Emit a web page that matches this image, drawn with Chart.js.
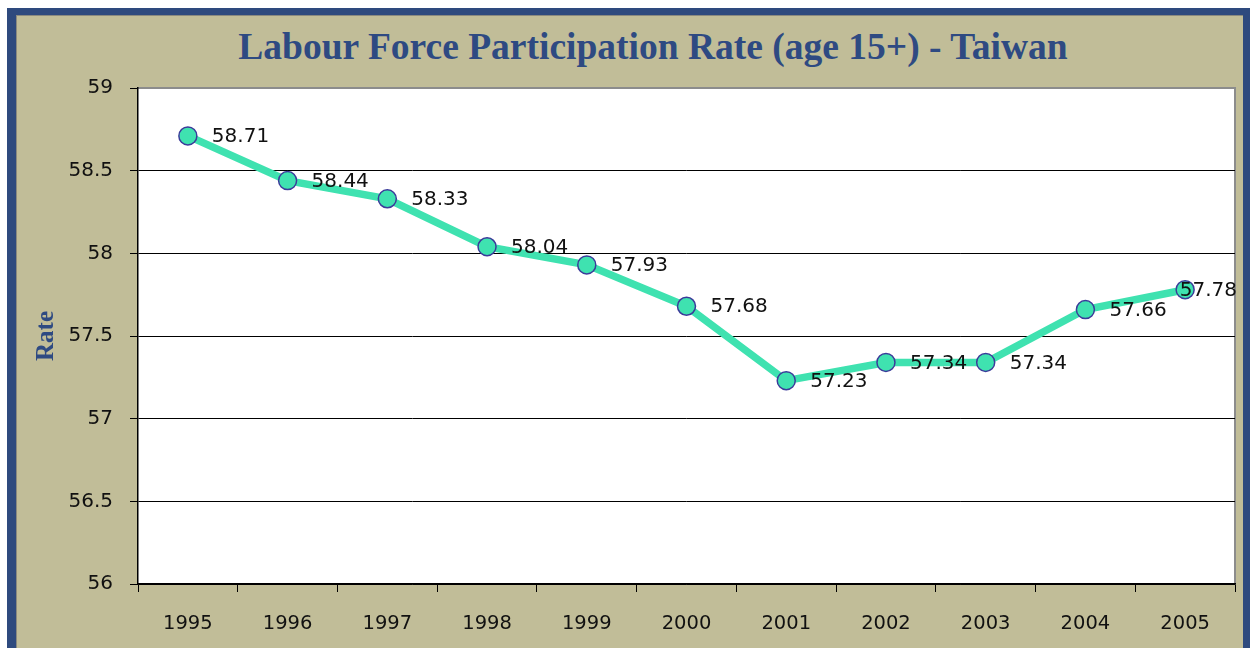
<!DOCTYPE html>
<html>
<head>
<meta charset="utf-8">
<script src="https://cdn.jsdelivr.net/npm/chart.js@4.4.1/dist/chart.umd.min.js"></script>
<style>
    body { margin: 0; background: #ffffff; }
    #frame { position: absolute; left: 7px; top: 8px; width: 1243px; height: 660px; background: #2e4a7e; }
    #panel { position: absolute; left: 9px; top: 7px; right: 7px; bottom: 0; background: #c1bd98; border-top: 1px solid #8a8a80; border-left: 1px solid #8a8a80; }
    #title { position: absolute; left: 0; top: 28px; width: 1306px; text-align: center;
             font: bold 37.5px "Liberation Serif", serif; line-height: 37px; color: #2e4a82; }
    #wrap { position: absolute; left: 0; top: 0; width: 1250px; height: 648px; }
</style>
</head>
<body>

<div id="frame"><div id="panel"></div></div>
<div id="title">Labour Force Participation Rate (age 15+) - Taiwan</div>
<div id="wrap"><canvas id="lfprChart" width="1250" height="648"></canvas></div>

<script>

    // participation rate by year, in percent
    let years = ["1995", "1996", "1997", "1998", "1999", "2000", "2001", "2002", "2003", "2004", "2005"];
    let rates = [58.71, 58.44, 58.33, 58.04, 57.93, 57.68, 57.23, 57.34, 57.34, 57.66, 57.78];

    let yMin = 56;
    let yMax = 59;
    let yStep = 0.5;

    let lineColor = "#3fe2b0";
    let pointEdge = "#3b3b9a";

    // white plot area with a grey edge on top and right
    const plotBackground = {
        id: "plotBackground",
        beforeDraw(chart) {
            let a = chart.chartArea;
            let ctx = chart.ctx;
            ctx.save();
            ctx.fillStyle = "#ffffff";
            ctx.fillRect(a.left, a.top, a.right - a.left, a.bottom - a.top);
            ctx.strokeStyle = "#8c8c8c";
            ctx.lineWidth = 2;
            ctx.beginPath();
            ctx.moveTo(a.left, a.top);
            ctx.lineTo(a.right, a.top);
            ctx.lineTo(a.right, a.bottom);
            ctx.stroke();
            ctx.restore();
        }
    };

    // value labels to the right of each point
    const valueLabels = {
        id: "valueLabels",
        afterDatasetsDraw(chart) {
            let ctx = chart.ctx;
            let meta = chart.getDatasetMeta(0);
            let right = chart.chartArea.right + 2;
            ctx.save();
            ctx.font = "20px 'DejaVu Sans'";
            ctx.fillStyle = "#111111";
            ctx.textBaseline = "middle";
            ctx.textAlign = "left";
            meta.data.forEach((pt, i) => {
                let text = rates[i].toFixed(2);
                let w = ctx.measureText(text).width;
                let x = Math.min(pt.x + 24, right - w);
                ctx.fillText(text, x, pt.y + 1);
            });
            ctx.restore();
        }
    };

    new Chart("lfprChart", {
        type: "line",
        data: {
            labels: years,
            datasets: [{
                data: rates,
                borderColor: lineColor,
                borderWidth: 7.5,
                backgroundColor: lineColor,
                pointBackgroundColor: lineColor,
                pointBorderColor: pointEdge,
                pointBorderWidth: 1.5,
                pointRadius: 9,
                tension: 0,
                fill: false
            }]
        },
        options: {
            responsive: false,
            animation: false,
            layout: {padding: {top: 88, left: 16, right: 15, bottom: 0}},
            plugins: {
                legend: {display: false},
                tooltip: {enabled: false}
            },
            scales: {
                x: {
                    offset: true,
                    grid: {
                        offset: true,
                        drawOnChartArea: false,
                        tickLength: 8,
                        tickColor: "#000000"
                    },
                    border: {color: "#000000", width: 1.5},
                    ticks: {font: {family: "DejaVu Sans", size: 19.5}, color: "#111111", padding: 20, maxRotation: 0},
                    afterFit(scale) { scale.height = 64; }
                },
                y: {
                    min: yMin,
                    max: yMax,
                    grid: {
                        color: ctx => ctx.tick && ctx.tick.value === yMax ? "#8c8c8c" : "#000000",
                        tickColor: "#000000",
                        tickLength: 8
                    },
                    border: {color: "#000000", width: 1.5},
                    ticks: {
                        stepSize: yStep,
                        font: {family: "DejaVu Sans", size: 20},
                        color: "#111111",
                        padding: 17,
                        callback: value => String(value)
                    },
                    title: {
                        display: true,
                        text: "Rate",
                        color: "#2e4a82",
                        font: {family: "Liberation Serif", size: 25, weight: "bold"},
                        padding: {top: 16, bottom: 0}
                    },
                    afterFit(scale) { scale.width = 122; }
                }
            }
        },
        plugins: [plotBackground, valueLabels]
    });

</script>
</body>
</html>
